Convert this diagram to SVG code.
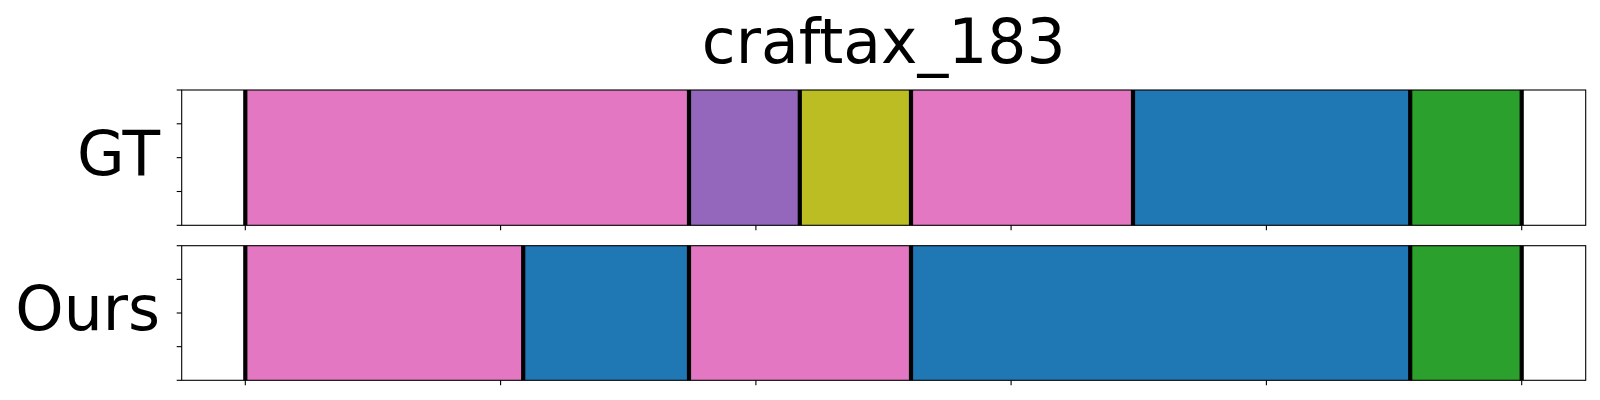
<svg xmlns="http://www.w3.org/2000/svg" width="1600" height="400" viewBox="0 0 1600 400">
<style>
  .lbl { font-family: "DejaVu Sans", sans-serif; font-size: 61.5px; fill: #000; }
  .frame { fill: none; stroke: #000; stroke-width: 1.1; }
  .tick { stroke: #000; stroke-width: 1.1; }
  .sep { stroke: #000; stroke-width: 4.2; }
  .pink { fill: #e377c2; }
  .purple { fill: #9467bd; }
  .olive { fill: #bcbd22; }
  .blue { fill: #1f77b4; }
  .green { fill: #2ca02c; }
</style>
<rect width="1600" height="400" fill="#fff"/>
<text class="lbl" x="883.7" y="63.3" text-anchor="middle">craftax_183</text>

<g id="gt">
  <text class="lbl" x="160" y="175" text-anchor="end">GT</text>
  <rect class="pink" x="245.3" y="90" width="443.7" height="135.3"/>
  <rect class="purple" x="689" y="90" width="110.8" height="135.3"/>
  <rect class="olive" x="799.8" y="90" width="111.2" height="135.3"/>
  <rect class="pink" x="911" y="90" width="222" height="135.3"/>
  <rect class="blue" x="1133" y="90" width="277.2" height="135.3"/>
  <rect class="green" x="1410.2" y="90" width="111.5" height="135.3"/>
  <g class="sep">
    <line x1="245.3" y1="90" x2="245.3" y2="225.3"/>
    <line x1="689" y1="90" x2="689" y2="225.3"/>
    <line x1="799.8" y1="90" x2="799.8" y2="225.3"/>
    <line x1="911" y1="90" x2="911" y2="225.3"/>
    <line x1="1133" y1="90" x2="1133" y2="225.3"/>
    <line x1="1410.2" y1="90" x2="1410.2" y2="225.3"/>
    <line x1="1521.7" y1="90" x2="1521.7" y2="225.3"/>
  </g>
  <rect class="frame" x="181.7" y="90" width="1404" height="135.3"/>
  <g class="tick">
    <line x1="176.7" y1="90" x2="181.7" y2="90"/>
    <line x1="176.7" y1="123.8" x2="181.7" y2="123.8"/>
    <line x1="176.7" y1="157.65" x2="181.7" y2="157.65"/>
    <line x1="176.7" y1="191.5" x2="181.7" y2="191.5"/>
    <line x1="176.7" y1="225.3" x2="181.7" y2="225.3"/>
    <line x1="245.3" y1="225.3" x2="245.3" y2="230.3"/>
    <line x1="500.6" y1="225.3" x2="500.6" y2="230.3"/>
    <line x1="755.9" y1="225.3" x2="755.9" y2="230.3"/>
    <line x1="1011.1" y1="225.3" x2="1011.1" y2="230.3"/>
    <line x1="1266.4" y1="225.3" x2="1266.4" y2="230.3"/>
    <line x1="1521.7" y1="225.3" x2="1521.7" y2="230.3"/>
  </g>
</g>

<g id="ours">
  <text class="lbl" x="160" y="330" text-anchor="end">Ours</text>
  <rect class="pink" x="245.3" y="245.7" width="277.9" height="134.6"/>
  <rect class="blue" x="523.2" y="245.7" width="165.8" height="134.6"/>
  <rect class="pink" x="689" y="245.7" width="222" height="134.6"/>
  <rect class="blue" x="911" y="245.7" width="499.2" height="134.6"/>
  <rect class="green" x="1410.2" y="245.7" width="111.5" height="134.6"/>
  <g class="sep">
    <line x1="245.3" y1="245.7" x2="245.3" y2="380.3"/>
    <line x1="523.2" y1="245.7" x2="523.2" y2="380.3"/>
    <line x1="689" y1="245.7" x2="689" y2="380.3"/>
    <line x1="911" y1="245.7" x2="911" y2="380.3"/>
    <line x1="1410.2" y1="245.7" x2="1410.2" y2="380.3"/>
    <line x1="1521.7" y1="245.7" x2="1521.7" y2="380.3"/>
  </g>
  <rect class="frame" x="181.7" y="245.7" width="1404" height="134.6"/>
  <g class="tick">
    <line x1="176.7" y1="245.7" x2="181.7" y2="245.7"/>
    <line x1="176.7" y1="279.35" x2="181.7" y2="279.35"/>
    <line x1="176.7" y1="313" x2="181.7" y2="313"/>
    <line x1="176.7" y1="346.65" x2="181.7" y2="346.65"/>
    <line x1="176.7" y1="380.3" x2="181.7" y2="380.3"/>
    <line x1="245.3" y1="380.3" x2="245.3" y2="385.3"/>
    <line x1="500.6" y1="380.3" x2="500.6" y2="385.3"/>
    <line x1="755.9" y1="380.3" x2="755.9" y2="385.3"/>
    <line x1="1011.1" y1="380.3" x2="1011.1" y2="385.3"/>
    <line x1="1266.4" y1="380.3" x2="1266.4" y2="385.3"/>
    <line x1="1521.7" y1="380.3" x2="1521.7" y2="385.3"/>
  </g>
</g>
<g id="connectors"></g>
</svg>
